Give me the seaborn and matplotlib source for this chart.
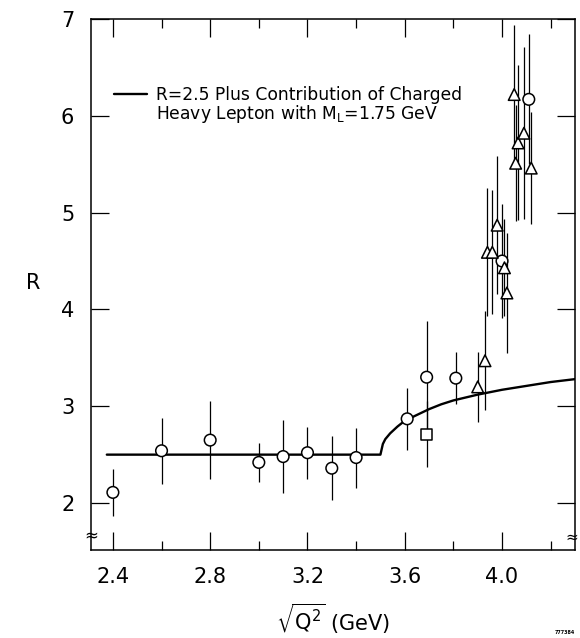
import pandas as pd
import seaborn as sns
import matplotlib.pyplot as plt
from matplotlib.lines import Line2D
from matplotlib.ticker import MultipleLocator

# open circles
circle_x = [2.40, 2.60, 2.80, 3.00, 3.10, 3.20, 3.30, 3.40, 3.61, 3.69, 3.81, 4.00, 4.11]
circle_r = [2.11, 2.54, 2.65, 2.42, 2.48, 2.52, 2.36, 2.47, 2.87, 3.30, 3.29, 4.50, 6.17]
circle_err = [0.24, 0.34, 0.40, 0.20, 0.38, 0.27, 0.33, 0.31, 0.32, 0.58, 0.27, 0.59, 0.67]

# open triangles
tri_x = [3.90, 3.93, 3.94, 3.96, 3.98, 4.01, 4.02, 4.05, 4.056, 4.066, 4.09, 4.12]
tri_r = [3.20, 3.47, 4.59, 4.59, 4.87, 4.43, 4.17, 6.22, 5.51, 5.72, 5.82, 5.46]
tri_err = [0.36, 0.51, 0.66, 0.64, 0.71, 0.50, 0.62, 0.72, 0.60, 0.80, 0.89, 0.58]

# open square
sq_x = [3.69]
sq_r = [2.71]
sq_err = [0.34]

# R = 2.5 plus heavy lepton curve
curve_x = [2.375, 3.50, 3.51, 3.52, 3.54, 3.57, 3.60, 3.65, 3.70, 3.75, 3.80,
           3.90, 4.00, 4.10, 4.20, 4.30]
curve_r = [2.50, 2.50, 2.61, 2.66, 2.72, 2.79, 2.85, 2.91, 2.97, 3.02, 3.06,
           3.12, 3.17, 3.21, 3.25, 3.28]

x_ticks = [2.4, 2.8, 3.2, 3.6, 4.0]
y_ticks = [2, 3, 4, 5, 6, 7]
legend_lines = ["R=2.5 Plus Contribution of Charged",
                "Heavy Lepton with $\\mathregular{M_L}$=1.75 GeV"]

points = pd.concat([
    pd.DataFrame({"x": circle_x, "R": circle_r, "err": circle_err, "kind": "circle"}),
    pd.DataFrame({"x": tri_x, "R": tri_r, "err": tri_err, "kind": "triangle"}),
    pd.DataFrame({"x": sq_x, "R": sq_r, "err": sq_err, "kind": "square"}),
], ignore_index=True)

sns.set_theme(style="ticks")
plt.rcParams["font.family"] = ["DejaVu Sans"]
plt.rcParams["text.color"] = "black"
plt.rcParams["axes.labelcolor"] = "black"

fig = plt.figure(figsize=(5.8, 6.38), dpi=100)
ax = fig.add_axes([91 / 580, 88 / 638, 484 / 580, 531 / 638])

ax.errorbar(points["x"], points["R"], yerr=points["err"], fmt="none",
            ecolor="black", elinewidth=0.9, capsize=0, zorder=2)
sns.lineplot(x=curve_x, y=curve_r, color="black", linewidth=1.7, ax=ax, zorder=3)
sns.scatterplot(data=points, x="x", y="R", style="kind",
                markers={"circle": "o", "triangle": "^", "square": "s"},
                s=70, facecolor="white", edgecolor="black", linewidth=1.1,
                legend=False, ax=ax, zorder=4)

ax.set_xlim(2.31, 4.30)
ax.set_ylim(1.515, 7.0)
ax.set_xticks(x_ticks)
ax.set_xticklabels([f"{t:.1f}" for t in x_ticks])
ax.xaxis.set_minor_locator(MultipleLocator(0.2))
ax.set_yticks(y_ticks)

ax.tick_params(axis="both", which="both", direction="in", top=True, right=True,
               labelsize=15, pad=12, colors="black")
ax.tick_params(which="major", length=13, width=0.9)
ax.tick_params(which="minor", length=6.5, width=0.9)
for s in ax.spines.values():
    s.set_linewidth(1.1)
    s.set_color("black")

ax.set_xlabel(r"$\sqrt{\mathregular{Q^2}}$ (GeV)", fontsize=15, va="center")
ax.xaxis.set_label_coords(0.5, -0.13)
ax.set_ylabel("R", fontsize=15, rotation=0, ha="center", va="center")
ax.yaxis.set_label_coords(-0.12, 0.503)

# legend: line sample next to the first text line only
handles = [Line2D([], [], color="black", linewidth=1.7),
           Line2D([], [], color="none")]
leg = ax.legend(handles, legend_lines, loc="upper left",
                bbox_to_anchor=(0.047, 0.874), frameon=False,
                fontsize=12.3, handlelength=1.95, handletextpad=0.55,
                labelspacing=-0.08, borderpad=0, borderaxespad=0)

# axis break marks
ax.text(0, 0.028, "≈", transform=ax.transAxes, ha="center", va="center", fontsize=12)
ax.text(0.993, 0.024, "≈", transform=ax.transAxes, ha="center", va="center", fontsize=11)

fig.text(565 / 580, 1 - 632 / 638, "777384", fontsize=3.5, fontweight="bold",
         ha="center", va="center")

fig.savefig("out.png", dpi=100)
